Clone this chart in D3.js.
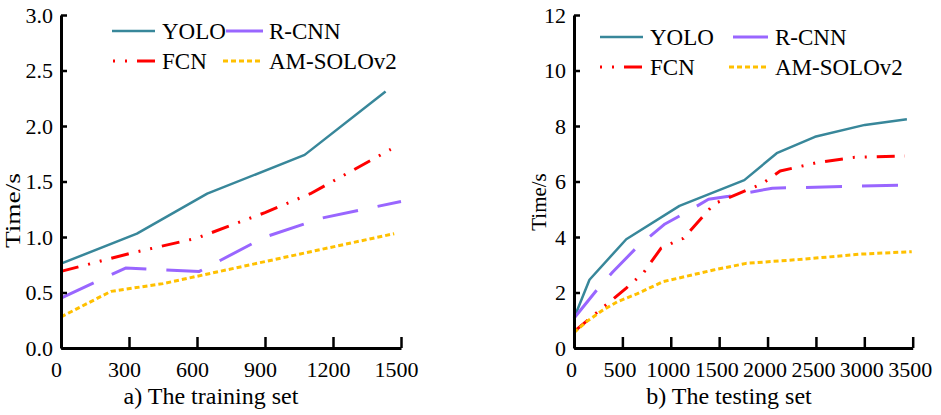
<!DOCTYPE html>
<html><head><meta charset="utf-8">
<script src="https://cdn.jsdelivr.net/npm/d3@7/dist/d3.min.js"></script>
<style>
body{margin:0;background:#fff;}
svg{display:block;font-family:"Liberation Serif","Times New Roman",serif;}
</style></head>
<body><svg id="c" width="941" height="415"></svg>
<script>
// ---- data ----
const seriesNames = ["YOLO", "R-CNN", "FCN", "AM-SOLOv2"];
const trainXTicks = [0, 300, 600, 900, 1200, 1500];
const trainYTicks = [0.0, 0.5, 1.0, 1.5, 2.0, 2.5, 3.0];
const testXTicks = [0, 500, 1000, 1500, 2000, 2500, 3000, 3500];
const testYTicks = [0, 2, 4, 6, 8, 10, 12];

const trainYOLO = [[0,0.76],[335,1.03],[645,1.39],[1075,1.74],[1432,2.31]];
const trainRCNN = [[0,0.45],[285,0.72],[610,0.69],[900,1.0],[1150,1.17],[1500,1.32]];
const trainFCN  = [[0,0.69],[300,0.85],[600,0.99],[900,1.22],[1100,1.39],[1455,1.79]];
const trainAM   = [[0,0.28],[220,0.51],[450,0.58],[1470,1.03]];

const testYOLO = [[0,1.07],[160,2.46],[540,3.92],[1090,5.12],[1760,6.05],[2095,7.02],[2490,7.61],[3005,8.04],[3440,8.24]];
const testRCNN = [[0,1.07],[250,2.15],[400,2.74],[650,3.63],[940,4.47],[1130,4.83],[1390,5.36],[1600,5.47],[2050,5.76],[3430,5.87]];
const testFCN  = [[0,0.59],[540,2.16],[720,2.72],[900,3.6],[1100,3.92],[1130,3.95],[1450,5.2],[1700,5.56],[1950,5.93],[2130,6.38],[2500,6.67],[2900,6.87],[3420,6.92]];
const testAM   = [[0,0.55],[130,0.95],[300,1.37],[450,1.67],[650,1.95],[920,2.39],[1440,2.81],[1780,3.05],[2370,3.2],[2950,3.38],[3490,3.47]];

const titles = ["a) The training set", "b) The testing set"];
const yLabel = "Time/s";

// ---- styles ----
const styles = [
  {color:"#38879a", width:2.5, dash:null},
  {color:"#9966ff", width:3, dash:"36,20"},
  {color:"#ff0000", width:3, dash:"18,10,2,10,2,10"},
  {color:"#ffc000", width:3, dash:"5,3"}
];

const svg = d3.select("#c");
const FONT = '"Liberation Serif","Times New Roman",serif';

const panels = [
  {xd:[0,1500], xr:[61,401], yd:[0,3], xticks:trainXTicks, yticks:trainYTicks, yfmt:d3.format(".1f"),
   data:[trainYOLO,trainRCNN,trainFCN,trainAM], title:titles[0], tx:211, lx:20, ly:210.5, ylen:75, xdx:-5,
   leg:[{x1:112,x2:155,tx:162,y:31},{x1:226,x2:263,tx:269,y:31},{x1:113,x2:155,tx:162,y:61},{x1:223,x2:263,tx:269,y:61}]},
  {xd:[0,3500], xr:[574,912.7], yd:[0,12], xticks:testXTicks, yticks:testYTicks, yfmt:d3.format("d"),
   data:[testYOLO,testRCNN,testFCN,testAM], title:titles[1], tx:729, lx:546, ly:202, ylen:null, xdx:-3,
   leg:[{x1:600,x2:643,tx:650,y:37},{x1:733,x2:768,tx:775,y:37},{x1:600,x2:643,tx:650,y:67},{x1:729,x2:768,tx:775,y:67}]}
];

panels.forEach(p => {
  const x = d3.scaleLinear().domain(p.xd).range(p.xr);
  const y = d3.scaleLinear().domain(p.yd).range([348,15]);
  const g = svg.append("g");

  // lines
  const line = d3.line().x(d=>x(d[0])).y(d=>y(d[1]));
  p.data.forEach((ser,i) => {
    const s = styles[i];
    g.append("path").datum(ser).attr("d", line)
      .attr("fill","none").attr("stroke", s.color).attr("stroke-width", s.width)
      .attr("stroke-dasharray", s.dash).attr("stroke-linejoin","round");
  });

  // axes
  const ax = g.append("g").attr("transform", `translate(0,348)`)
    .call(d3.axisBottom(x).tickValues(p.xticks).tickSizeInner(-11).tickSizeOuter(0).tickPadding(13).tickFormat(d3.format("d")));
  ax.selectAll("text").attr("dx", p.xdx);
  const ay = g.append("g").attr("transform", `translate(${p.xr[0]},0)`)
    .call(d3.axisLeft(y).tickValues(p.yticks).tickSizeInner(-6).tickSizeOuter(0).tickPadding(8).tickFormat(p.yfmt));
  [ax, ay].forEach(a => {
    a.select(".domain").attr("stroke","#000").attr("stroke-width",3);
    a.selectAll(".tick line").attr("stroke","#000").attr("stroke-width",2.5);
    a.selectAll("text").attr("fill","#000").style("font-family",FONT).style("font-size","22px");
  });

  // y label
  const yl = g.append("text").attr("transform", `translate(${p.lx},${p.ly}) rotate(-90)`)
    .attr("text-anchor","middle").style("font-size","21px").attr("fill","#000").text(yLabel);
  if (p.ylen) yl.attr("textLength", p.ylen).attr("lengthAdjust","spacingAndGlyphs");

  // title
  g.append("text").attr("x", p.tx).attr("y", 404).attr("text-anchor","middle")
    .style("font-size","24px").attr("fill","#000").text(p.title);

  // legend
  p.leg.forEach((L,i) => {
    const s = styles[i];
    const ln = g.append("line").attr("x1",L.x1).attr("x2",L.x2).attr("y1",L.y).attr("y2",L.y)
      .attr("stroke",s.color).attr("stroke-width",s.width);
    if (i===2) ln.attr("stroke-dasharray", s.dash).attr("stroke-dashoffset", 28);
    if (i===3) ln.attr("stroke-dasharray", s.dash);
    g.append("text").attr("x",L.tx).attr("y",L.y+8).style("font-size","23px").attr("fill","#000").text(seriesNames[i]);
  });
});
</script></body></html>
